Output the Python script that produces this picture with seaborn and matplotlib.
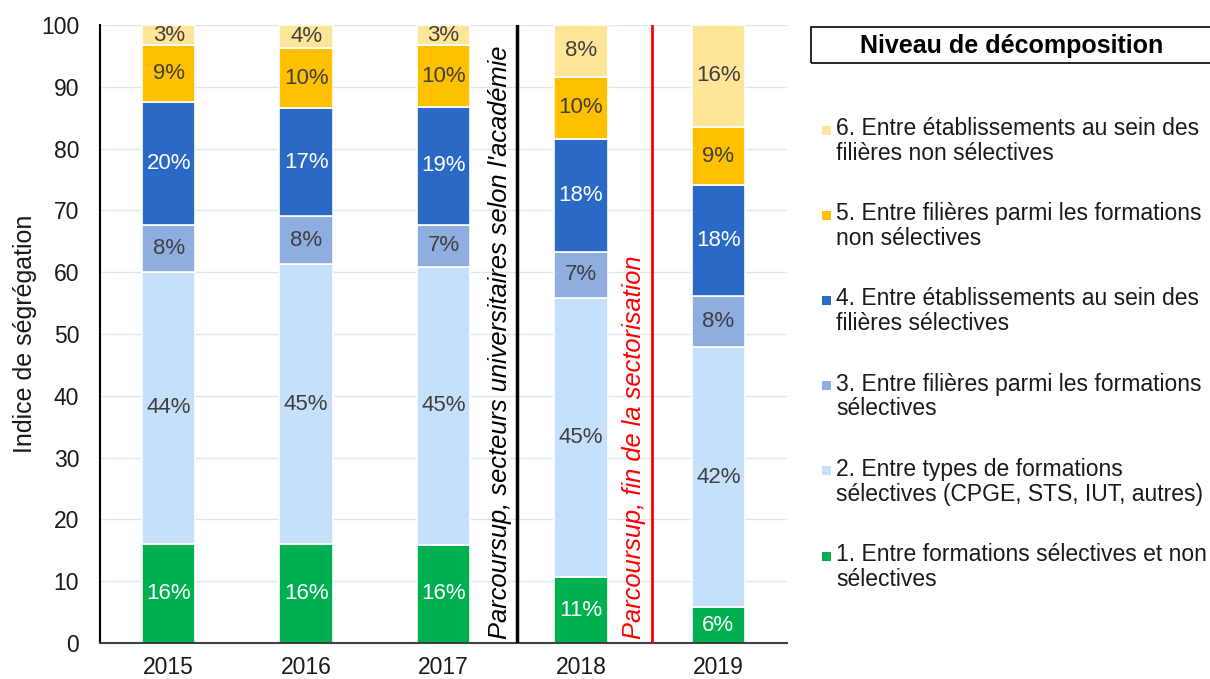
import matplotlib
matplotlib.use("Agg")
import matplotlib.pyplot as plt
import numpy as np
import pandas as pd
import seaborn as sns
from matplotlib.patches import Rectangle


YEARS = ["2015", "2016", "2017", "2018", "2019"]

# segment values (bottom to top)
LEVEL_1 = [16.0, 16.0, 15.9, 10.6, 5.8]
LEVEL_2 = [44.1, 45.3, 45.0, 45.3, 42.1]
LEVEL_3 = [7.5, 7.8, 6.8, 7.4, 8.2]
LEVEL_4 = [20.0, 17.4, 19.0, 18.3, 18.0]
LEVEL_5 = [9.1, 9.8, 10.0, 10.0, 9.4]
LEVEL_6 = [3.3, 3.7, 3.3, 8.4, 16.5]

LEVEL_NAMES = [
    "1. Entre formations sélectives et non\nsélectives",
    "2. Entre types de formations\nsélectives (CPGE, STS, IUT, autres)",
    "3. Entre filières parmi les formations\nsélectives",
    "4. Entre établissements au sein des\nfilières sélectives",
    "5. Entre filières parmi les formations\nnon sélectives",
    "6. Entre établissements au sein des\nfilières non sélectives",
]
LEVEL_COLORS = ["#00AF50", "#C5E0FB", "#8EAEDF", "#2A69C6", "#FFC000", "#FFE597"]
LABEL_COLORS = ["white", "#404040", "#404040", "white", "#404040", "#404040"]

MARKER_TEXT_1 = "Parcoursup, secteurs universitaires selon l'académie"
MARKER_TEXT_2 = "Parcoursup, fin de la sectorisation"
MARKER_X_1 = 2.535
MARKER_X_2 = 3.515

W, H = 1210, 679
FS = 16.5


def main():
    sns.set_theme(style="white")
    plt.rcParams["font.family"] = ["Liberation Sans", "DejaVu Sans"]

    levels = [LEVEL_1, LEVEL_2, LEVEL_3, LEVEL_4, LEVEL_5, LEVEL_6]
    df = pd.DataFrame({"year": YEARS})
    for i, vals in enumerate(levels):
        df[f"l{i + 1}"] = vals

    fig = plt.figure(figsize=(W / 100, H / 100), dpi=100)
    ax = fig.add_axes([100 / W, 1 - 643 / H, 687 / W, 618 / H])

    bottom = np.zeros(len(YEARS))
    for i in range(len(levels)):
        col = f"l{i + 1}"
        sns.barplot(
            data=df, x="year", y=col, ax=ax, color=LEVEL_COLORS[i],
            saturation=1, width=0.39, bottom=bottom, errorbar=None,
            edgecolor="white", linewidth=1.2, zorder=2,
        )
        for j, v in enumerate(df[col]):
            ax.text(j, bottom[j] + v / 2, f"{v:.0f}%", ha="center", va="center",
                    fontsize=16, color=LABEL_COLORS[i], zorder=3)
        bottom = bottom + df[col].values

    ax.set_ylim(0, 100)
    ax.set_xlim(-0.5, len(YEARS) - 0.5)
    ax.set_yticks(np.arange(0, 101, 10))
    ax.yaxis.grid(True, color="#DCE6F2", linewidth=1.0, zorder=0)
    ax.set_axisbelow(True)
    ax.tick_params(axis="both", length=0, labelsize=FS, colors="#1A1A1A")
    ax.tick_params(axis="y", pad=15)
    ax.tick_params(axis="x", pad=9)
    ax.set_xlabel("")
    ax.set_ylabel("Indice de ségrégation", fontsize=18, color="#1A1A1A", labelpad=3)

    for side in ["top", "right"]:
        ax.spines[side].set_visible(False)
    ax.spines["left"].set_color("black")
    ax.spines["left"].set_linewidth(1.5)
    ax.spines["bottom"].set_color("#404040")
    ax.spines["bottom"].set_linewidth(1.5)

    ax.axvline(MARKER_X_1, color="black", linewidth=2.5, zorder=4)
    ax.axvline(MARKER_X_2, color="#FF0000", linewidth=2, zorder=4)
    ax.text(2.41, 0.6, MARKER_TEXT_1, rotation=90, ha="center", va="bottom",
            fontsize=18.4, style="italic", color="black")
    ax.text(3.39, 0.6, MARKER_TEXT_2, rotation=90, ha="center", va="bottom",
            fontsize=18.4, style="italic", color="#FF0000")

    # legend panel on the right
    fig.patches.append(Rectangle((811 / W, 1 - 63 / H), 410 / W, 36 / H,
                                 transform=fig.transFigure, fill=False,
                                 edgecolor="black", linewidth=1.2))
    fig.text(1012 / W, 1 - 46 / H, "Niveau de décomposition", ha="center",
             va="center", fontsize=18, fontweight="bold", color="black")

    for k, idx in enumerate(range(len(levels) - 1, -1, -1)):
        yc = 130 + 85.2 * k
        fig.patches.append(Rectangle((822 / W, 1 - (yc + 4.5) / H), 9 / W, 9 / H,
                                     transform=fig.transFigure,
                                     facecolor=LEVEL_COLORS[idx], edgecolor="none"))
        fig.text(836 / W, 1 - (yc - 13) / H, LEVEL_NAMES[idx], ha="left", va="top",
                 fontsize=FS, color="#1A1A1A", linespacing=1.1)

    fig.savefig("out.png", dpi=100)
    plt.close(fig)


if __name__ == "__main__":
    main()
